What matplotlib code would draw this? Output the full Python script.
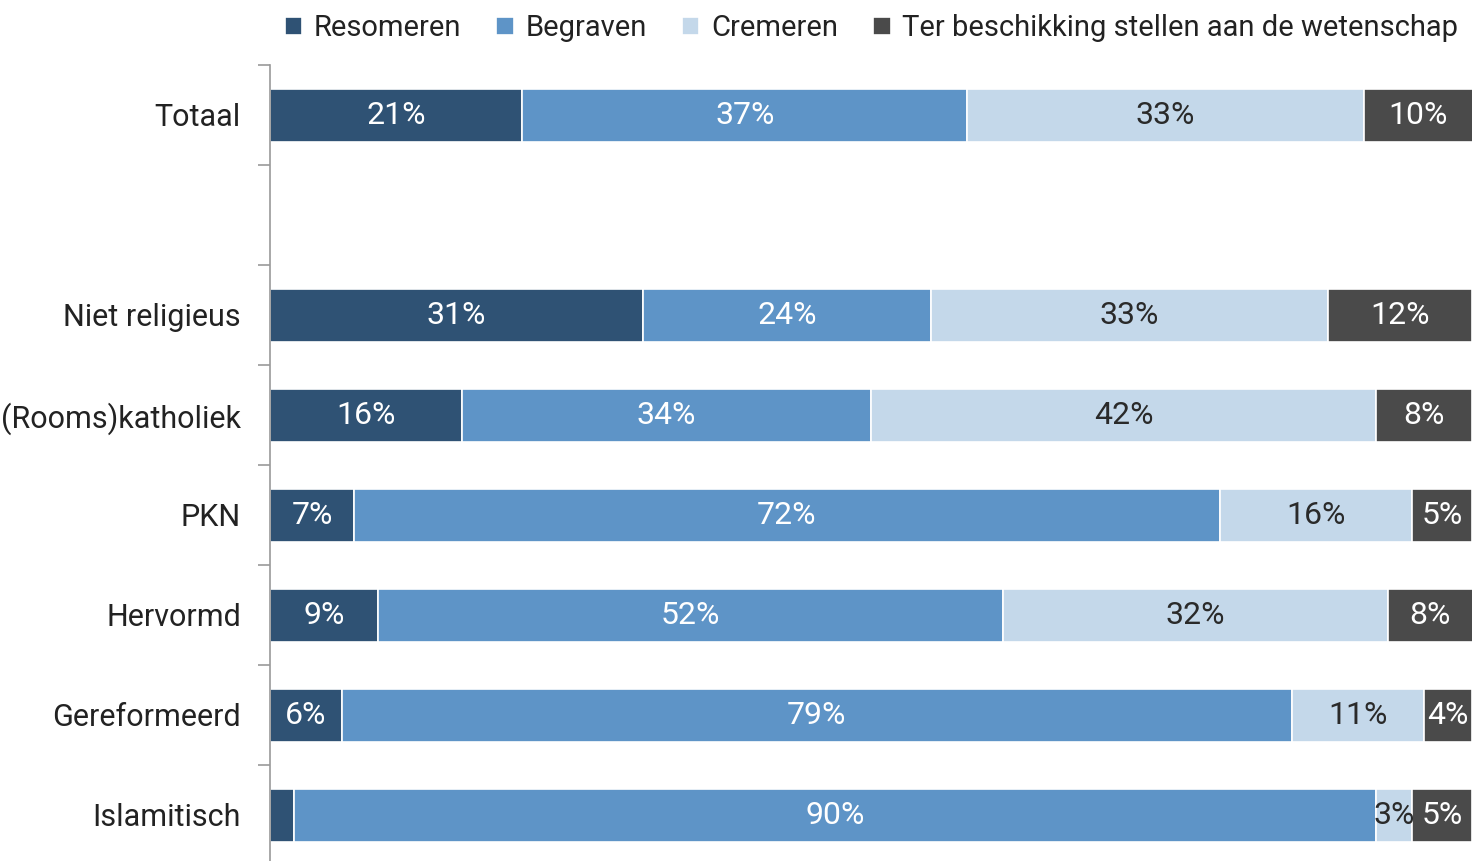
import numpy as np
import matplotlib
matplotlib.use('Agg')
import matplotlib.pyplot as plt

# categories, top to bottom ('' is the empty gap under Totaal)
categories = ['Totaal', '', 'Niet religieus', '(Rooms)katholiek', 'PKN',
              'Hervormd', 'Gereformeerd', 'Islamitisch']
series = ['Resomeren', 'Begraven', 'Cremeren', 'Ter beschikking stellen aan de wetenschap']

resomeren = [21, 0, 31, 16, 7, 9, 6, 2]
begraven = [37, 0, 24, 34, 72, 52, 79, 90]
cremeren = [33, 0, 33, 42, 16, 32, 11, 3]
wetenschap = [10, 0, 12, 8, 5, 8, 4, 5]

# labels as printed (the small Islamitisch resomeren share has none)
lbl_resomeren = ['21%', '', '31%', '16%', '7%', '9%', '6%', '']
lbl_begraven = ['37%', '', '24%', '34%', '72%', '52%', '79%', '90%']
lbl_cremeren = ['33%', '', '33%', '42%', '16%', '32%', '11%', '3%']
lbl_wetenschap = ['10%', '', '12%', '8%', '5%', '8%', '4%', '5%']

colors = ['#2f5274', '#5e94c7', '#c4d8ea', '#4a4a4a']
text_colors = ['white', 'white', '#2a2a2a', 'white']

plt.rcParams['font.family'] = ['Roboto', 'DejaVu Sans']
fs = 23

fig = plt.figure(figsize=(14.72, 8.61), dpi=100)
ax = fig.add_axes([270 / 1472, 1 - 865 / 861, 1 - 270 / 1472, 800 / 861])

y = np.arange(len(categories))
values = [resomeren, begraven, cremeren, wetenschap]
labels = [lbl_resomeren, lbl_begraven, lbl_cremeren, lbl_wetenschap]

left = np.zeros(len(categories))
for i in range(4):
    vals = np.array(values[i], dtype=float)
    bars = ax.barh(y, vals, left=left, height=0.53, color=colors[i],
                   edgecolor='white', linewidth=1.2, label=series[i])
    ax.bar_label(bars, labels=labels[i], label_type='center',
                 color=text_colors[i], fontsize=fs)
    left += vals

ax.set_xlim(0, 100)
ax.set_ylim(len(categories) - 0.5, -0.5)
ax.set_yticks(y)
ax.set_yticklabels(categories, fontsize=22, color='#222222')
ax.tick_params(axis='y', which='major', length=0, pad=21)
ax.set_yticks(np.arange(-0.5, len(categories), 1), minor=True)
ax.tick_params(axis='y', which='minor', length=9, color='#999999', width=1.2)
ax.set_xticks([])

for s in ['top', 'right', 'bottom']:
    ax.spines[s].set_visible(False)
ax.spines['left'].set_color('#999999')
ax.spines['left'].set_linewidth(1.2)

fig.legend(loc='center', bbox_to_anchor=(0.592, 0.967), ncol=4, frameon=False,
           fontsize=21, handlelength=0.6, handleheight=0.6, handletextpad=0.4,
           columnspacing=1.2, labelcolor='#222222')

fig.savefig('out.png', dpi=100)
